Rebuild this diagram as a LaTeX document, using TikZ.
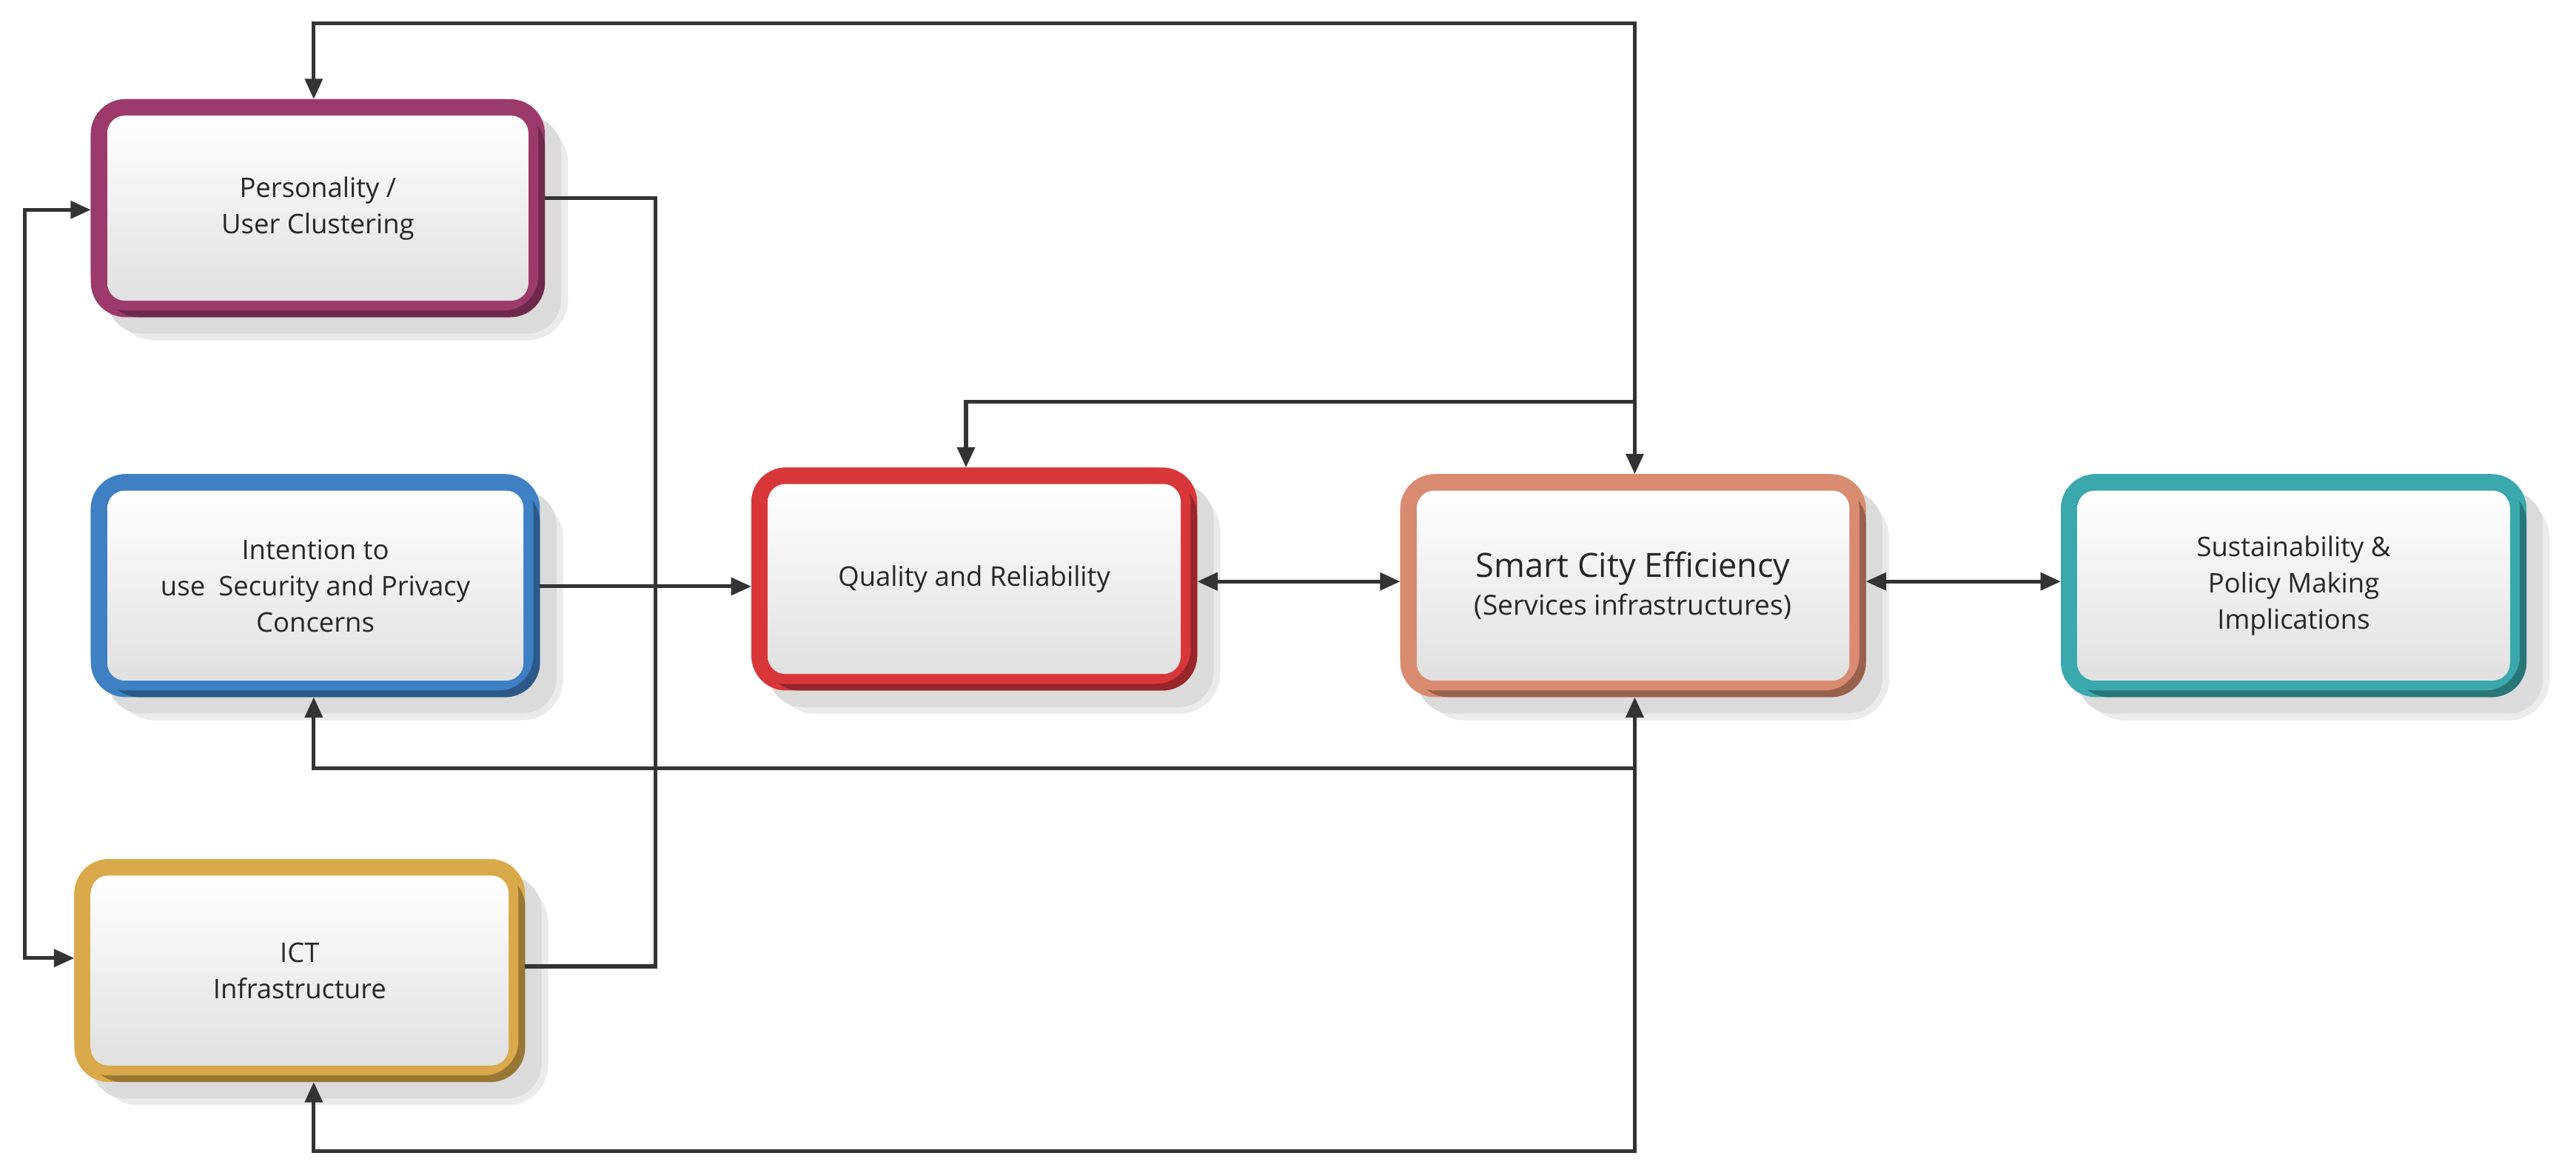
\documentclass[tikz,border=0pt]{standalone}
\usepackage{fontspec}
\setmainfont{Open Sans}
\usetikzlibrary{arrows.meta}
\definecolor{cpur}{HTML}{9B3A6B}
\definecolor{cblu}{HTML}{3F7FC4}
\definecolor{cgld}{HTML}{D9A94A}
\definecolor{cred}{HTML}{D8373A}
\definecolor{csal}{HTML}{D98B70}
\definecolor{ctea}{HTML}{3AA8AD}
\tikzset{
  conn/.style={line width=1.3pt, draw=black!80, -{Triangle[length=7pt,width=6pt]}},
  conn2/.style={line width=1.3pt, draw=black!80, {Triangle[length=7pt,width=6pt]}-{Triangle[length=7pt,width=6pt]}},
  plain/.style={line width=1.3pt, draw=black!80},
  lbl/.style={align=center, font=\fontsize{9.3}{12.5}\selectfont, text=black!85}
}
\newcommand{\mybox}[6]{% name, x1,y1,x2,y2,color
  \fill[black!8, rounded corners=14] (#2+14,#3+14) rectangle (#4+14,#5+14);
  \fill[black!14, rounded corners=12] (#2+10,#3+10) rectangle (#4+10,#5+10);
  \fill[#6, rounded corners=12] (#2,#3) rectangle (#4,#5);
  \fill[#6!70!black, rounded corners=12] (#2+8,#3+8) rectangle (#4,#5);
  \fill[#6, rounded corners=12] (#2,#3) rectangle (#4-4,#5-4);
  \shade[top color=white, bottom color=black!12, rounded corners=6] (#2+10,#3+10) rectangle (#4-10,#5-10);
  \coordinate (#1) at ({(#2+#4)/2},{(#3+#5)/2});
}
\begin{document}
\begin{tikzpicture}[x=0.02cm,y=-0.02cm]
\useasboundingbox (0,0) rectangle (1560,710);
\mybox{per}{55}{60}{330}{192}{cpur}
\mybox{int}{55}{287}{327}{422}{cblu}
\mybox{ict}{45}{520}{318}{655}{cgld}
\mybox{qua}{455}{283}{725}{418}{cred}
\mybox{sce}{848}{287}{1130}{422}{csal}
\mybox{sus}{1248}{287}{1530}{422}{ctea}
\node[lbl] (tper) at (per) {Personality /\\User Clustering};
\node[lbl] (tint) at (int) {Intention to\\use\enspace Security and Privacy\\Concerns};
\node[lbl] (tict) at (ict) {ICT\\Infrastructure};
\node[lbl] (tqua) at (qua) {Quality and Reliability};
\node[lbl, font=\fontsize{11.5}{13}\selectfont] (tsce) at (sce) {Smart City Efficiency\\{\fontsize{9.5}{12}\selectfont (Services infrastructures)}};
\node[lbl] (tsus) at (sus) {Sustainability \&\\Policy Making\\Implications};
% connectors
\draw[conn2] (190,60) -- (190,14) -- (990,14) -- (990,287);
\draw[conn] (990,243) -- (585,243) -- (585,283);
\draw[plain] (330,120) -- (397,120) -- (397,585) -- (318,585);
\draw[conn2] (55,127) -- (15,127) -- (15,580) -- (45,580);
\draw[conn] (327,355) -- (455,355);
\draw[conn2] (725,352) -- (848,352);
\draw[conn2] (1130,352) -- (1248,352);
\draw[conn] (190,465) -- (990,465) -- (990,422);
\draw[conn] (990,465) -- (990,697) -- (190,697) -- (190,655);
\draw[conn] (990,465) -- (190,465) -- (190,422);
\end{tikzpicture}
\end{document}
